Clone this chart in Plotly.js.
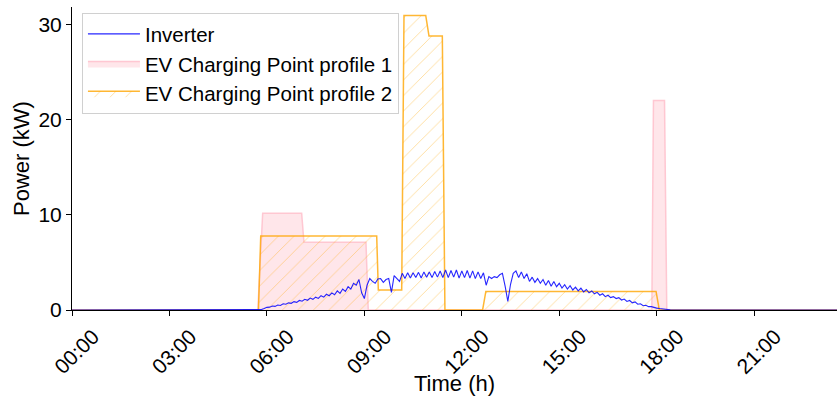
<!DOCTYPE html>
<html>
<head>
<meta charset="utf-8">
<script src="https://cdn.plot.ly/plotly-3.0.1.min.js"></script>
<style>html,body{margin:0;padding:0;background:#fff;}#chart{width:837px;height:396px;}</style>
</head>
<body>
<div id="chart"></div>
<script>
// Tick labels
const tickHours = [0, 3, 6, 9, 12, 15, 18, 21];
const tickLabels = ["00:00", "03:00", "06:00", "09:00", "12:00", "15:00", "18:00", "21:00"];

// EV Charging Point profile 1 (hours, kW)
const p1Hours = [0, 5.72, 5.87, 7.07, 7.14, 9.05, 9.12, 17.85, 17.90, 18.24, 18.31, 24];
const p1Power = [0, 0, 10.15, 10.15, 7.1, 7.1, 0, 0, 22.0, 22.0, 0, 0];

// EV Charging Point profile 2 (hours, kW)
const p2Hours = [0, 5.74, 5.81, 9.38, 9.43, 10.15, 10.22, 10.89, 10.99, 11.40, 11.48, 12.64, 12.74, 17.98, 18.08, 24];
const p2Power = [0, 0, 7.77, 7.77, 2.1, 2.1, 30.9, 30.9, 28.75, 28.75, 0, 0, 1.95, 1.95, 0, 0];

// Inverter output, 5-minute samples starting at 05:45 (kW)
const invStartHour = 5.75;
const invStepHour = 5 / 60;
const invPower = [
  0, 0.05, 0.15, 0.28, 0.3, 0.42, 0.38, 0.52, 0.48, 0.65, 0.6, 0.75,
  0.7, 0.88, 0.8, 1.0, 0.92, 1.12, 1.02, 1.25, 1.12, 1.35, 1.22, 1.5,
  1.35, 1.65, 1.5, 1.8, 1.6, 2.0, 1.75, 2.2, 1.95, 2.45, 2.2, 2.8,
  2.6, 3.2, 1.8, 1.2, 2.6, 3.3, 3.0, 2.8, 3.25,
  3.3, 2.9, 3.2, 3.3, 1.85, 3.6, 3.3, 3.0, 3.85, 3.3, 3.9, 3.35,
  3.9, 3.4, 3.95, 3.35, 4.0, 3.45, 4.0, 3.4, 4.05, 3.45, 4.1, 3.4,
  4.2, 3.4, 4.15, 3.45, 4.2, 3.35, 4.1, 3.4, 4.15, 3.35, 4.1, 3.3,
  4.0, 3.3, 3.9, 2.6, 3.5, 3.3,
  3.5, 3.4, 3.7, 3.85, 2.5, 0.9, 2.7, 3.85, 4.1, 3.4, 4.0, 3.3,
  3.8, 3.0, 3.45, 2.9, 3.3, 2.8, 3.2, 2.6, 3.1, 2.5, 3.0, 2.45,
  2.8, 2.3, 2.65, 2.2, 2.55, 2.1, 2.4, 2.0, 2.3, 1.9, 2.15, 1.8,
  2.0, 1.7, 1.85, 1.55, 1.7, 1.4, 1.55, 1.3, 1.4, 1.2,
  1.3, 1.05, 1.15, 0.9, 1.0, 0.75, 0.85, 0.6, 0.65, 0.45, 0.5, 0.35,
  0.35, 0.25, 0.2, 0.15, 0.1, 0.07, 0.04, 0.02, 0
];

const invHours = [0];
const invY = [0];
invPower.forEach((v, i) => { invHours.push(invStartHour + i * invStepHour); invY.push(v); });
invHours.push(24); invY.push(0);

const FONT = "Liberation Sans, Arial, sans-serif";

const traces = [
  {
    x: p1Hours, y: p1Power, type: "scatter", mode: "lines",
    name: "EV Charging Point profile 1", legendrank: 2,
    fill: "tozeroy", fillcolor: "rgba(255,192,203,0.4)",
    line: {color: "rgba(255,192,203,0.85)", width: 1.5}
  },
  {
    x: p2Hours, y: p2Power, type: "scatter", mode: "lines",
    name: "EV Charging Point profile 2", legendrank: 3,
    fill: "tozeroy", fillcolor: "rgba(0,0,0,0)",
    fillpattern: {shape: "/", fgcolor: "rgba(255,165,0,0.4)", bgcolor: "rgba(255,255,255,0)", size: 11, solidity: 0.08},
    line: {color: "rgba(255,165,0,0.8)", width: 1.5}
  },
  {
    x: invHours, y: invY, type: "scatter", mode: "lines",
    name: "Inverter", legendrank: 1,
    line: {color: "rgba(0,0,255,0.85)", width: 1.1}
  }
];

const layout = {
  width: 837, height: 396,
  margin: {l: 72, r: 0, t: 7, b: 86},
  paper_bgcolor: "#fff", plot_bgcolor: "#fff",
  font: {family: FONT, color: "#000"},
  showlegend: true,
  legend: {
    x: 0.013, y: 0.98, xanchor: "left", yanchor: "top",
    bgcolor: "rgba(255,255,255,0.85)", bordercolor: "#d0d0d0", borderwidth: 1,
    itemwidth: 52,
    font: {family: FONT, size: 20.5, color: "#000"}
  },
  xaxis: {
    range: [0, 23.55],
    tickvals: tickHours, ticktext: tickLabels, tickangle: -45,
    ticks: "outside", ticklen: 5, tickcolor: "#000", tickwidth: 1,
    ticklabelshift: 21,
    tickfont: {family: FONT, size: 21, color: "#000"},
    showline: true, linecolor: "#000", linewidth: 1, mirror: false,
    showgrid: false, zeroline: false,
    title: {text: "Time (h)", font: {family: FONT, size: 22, color: "#000"}, standoff: 4}
  },
  yaxis: {
    range: [0, 31.8],
    tickvals: [0, 10, 20, 30],
    ticks: "outside", ticklen: 5, tickcolor: "#000", tickwidth: 1,
    tickfont: {family: FONT, size: 21, color: "#000"},
    showline: true, linecolor: "#000", linewidth: 1, mirror: false,
    showgrid: false, zeroline: false,
    title: {text: "Power (kW)", font: {family: FONT, size: 22, color: "#000"}, standoff: 2}
  }
};

Plotly.newPlot("chart", traces, layout, {displayModeBar: false, staticPlot: true});
</script>
</body>
</html>
